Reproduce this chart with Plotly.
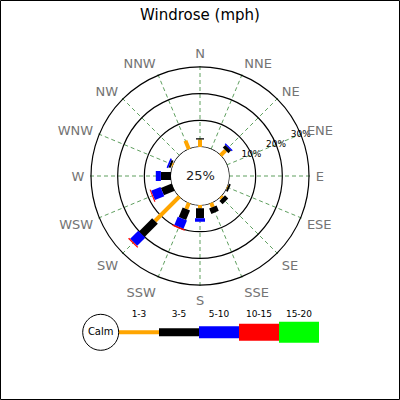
import plotly.graph_objects as go

# ---------------- data ----------------
directions = ["N", "NNE", "NE", "ENE", "E", "ESE", "SE", "SSE",
              "S", "SSW", "SW", "WSW", "W", "WNW", "NW", "NNW"]
range_labels = ["1-3", "3-5", "5-10", "10-15", "15-20"]
range_colors = ["#ffa500", "#000000", "#0000ff", "#ff0000", "#00ff00"]

# percent of time per direction, for each speed range
pct_1_3 = [2.8, 0, 2.7, 0, 0, 0.3, 0.9, 1.7, 1.2, 2.5, 13.0, 0, 0, 0.5, 0, 3.4]
pct_3_5 = [0.5, 0, 1.4, 0, 0, 0.7, 1.7, 2.2, 3.75, 3.9, 7.0, 4.4, 3.8, 0.8, 0, 0]
pct_5_10 = [0, 0, 0.5, 0, 0, 0, 0, 0, 1.3, 3.4, 4.3, 3.8, 1.9, 0.6, 0, 0]
pct_10_15 = [0, 0, 0, 0, 0, 0, 0, 0, 0, 0.5, 0.5, 0.4, 0, 0, 0, 0]
pct_15_20 = [0] * 16
calm_pct = 25
ring_vals = [10, 20, 30]

series = [pct_1_3, pct_3_5, pct_5_10, pct_10_15, pct_15_20]

# ---------------- styling ----------------
FONT = "DejaVu Sans"
bar_widths = [4, 8, 10, 13, 16]
legend_widths = [4, 8, 12, 17, 21]
R_MAX = 30.6
HOLE = 29 / 110.6
grid_green = "#5f9f5f"
label_gray = "#747474"

W = H = 400
cx, cy, rad = 200, 176, 110.6
dom_x = [(cx - rad) / W, (cx + rad) / W]
dom_y = [(H - cy - rad) / H, (H - cy + rad) / H]

theta_dirs = [i * 360 / len(directions) for i in range(len(directions))]

fig = go.Figure()

# calm circle edge (r = 0 sits on the hole boundary)
circ_theta = list(range(0, 361, 2))
fig.add_trace(go.Scatterpolar(
    r=[0] * len(circ_theta), theta=circ_theta, mode="lines",
    line=dict(color="black", width=1.2), hoverinfo="skip"))

# stacked bars drawn as thick constant-width segments
base = [0.0] * len(directions)
for k, vals in enumerate(series):
    rr, tt = [], []
    for i, v in enumerate(vals):
        if v > 0:
            rr += [base[i], base[i] + v, None]
            tt += [theta_dirs[i], theta_dirs[i], None]
            base[i] += v
    if rr:
        fig.add_trace(go.Scatterpolar(
            r=rr, theta=tt, mode="lines", connectgaps=False,
            line=dict(color=range_colors[k], width=bar_widths[k]),
            hoverinfo="skip"))

# ring labels
fig.add_trace(go.Scatterpolar(
    r=ring_vals, theta=[67.5] * len(ring_vals), mode="text",
    text=[f"{v}%" for v in ring_vals], textposition="middle center",
    cliponaxis=False, textfont=dict(family=FONT, size=9, color="black"),
    hoverinfo="skip"))

# ---------------- legend (cartesian helper axes) ----------------
for i, lab in enumerate(range_labels):
    fig.add_trace(go.Scatter(
        x=[i, i + 1], y=[0, 0], mode="lines",
        line=dict(color=range_colors[i], width=legend_widths[i]),
        xaxis="x", yaxis="y", hoverinfo="skip"))
fig.add_trace(go.Scatter(
    x=[i + 0.5 for i in range(len(range_labels))], y=[17.3] * len(range_labels),
    mode="text", text=range_labels, textposition="middle center",
    textfont=dict(family=FONT, size=9, color="black"), cliponaxis=False,
    xaxis="x", yaxis="y", hoverinfo="skip"))
fig.add_trace(go.Scatter(
    x=[-0.4575], y=[0], mode="markers+text", text=["Calm"],
    textposition="middle center",
    marker=dict(size=36, color="white", line=dict(color="black", width=1)),
    textfont=dict(family=FONT, size=10, color="black"), cliponaxis=False,
    xaxis="x", yaxis="y", hoverinfo="skip"))

fig.update_layout(
    width=W, height=H, autosize=False,
    margin=dict(l=0, r=0, t=0, b=0),
    paper_bgcolor="white", plot_bgcolor="white",
    showlegend=False,
    title=dict(text="Windrose (mph)", x=0.5, xanchor="center",
               y=1 - 14.5 / H, yanchor="middle",
               font=dict(family=FONT, size=15, color="black")),
    polar=dict(
        domain=dict(x=dom_x, y=dom_y),
        hole=HOLE,
        bgcolor="white",
        radialaxis=dict(range=[0, R_MAX], tickvals=ring_vals,
                        showticklabels=False, ticks="", showline=False,
                        gridcolor="black", gridwidth=1.2),
        angularaxis=dict(rotation=90, direction="clockwise",
                         tickvals=theta_dirs, ticktext=directions,
                         showticklabels=True, ticks="outside", ticklen=2,
                         tickcolor="rgba(0,0,0,0)",
                         tickfont=dict(family=FONT, size=13, color=label_gray),
                         showline=False, gridcolor=grid_green, gridwidth=1,
                         griddash="4px,3px"),
    ),
    xaxis=dict(domain=[0, 1], range=[-2.975, 7.025], visible=False,
               fixedrange=True),
    yaxis=dict(domain=[0, 1], range=[-67.7, 332.3], visible=False,
               fixedrange=True),
    annotations=[dict(text=f"{calm_pct}%", x=cx / W, y=1 - cy / H,
                      xref="paper", yref="paper", showarrow=False,
                      xanchor="center", yanchor="middle",
                      font=dict(family=FONT, size=13, color="#222222"))],
    shapes=[dict(type="rect", xref="paper", yref="paper",
                 x0=0.5 / W, x1=1 - 0.5 / W, y0=0.5 / H, y1=1 - 0.5 / H,
                 line=dict(color="black", width=1))],
)

fig.write_html("out.html",
               config={"displayModeBar": False, "staticPlot": True},
               post_script="document.body.style.margin='0px';")
